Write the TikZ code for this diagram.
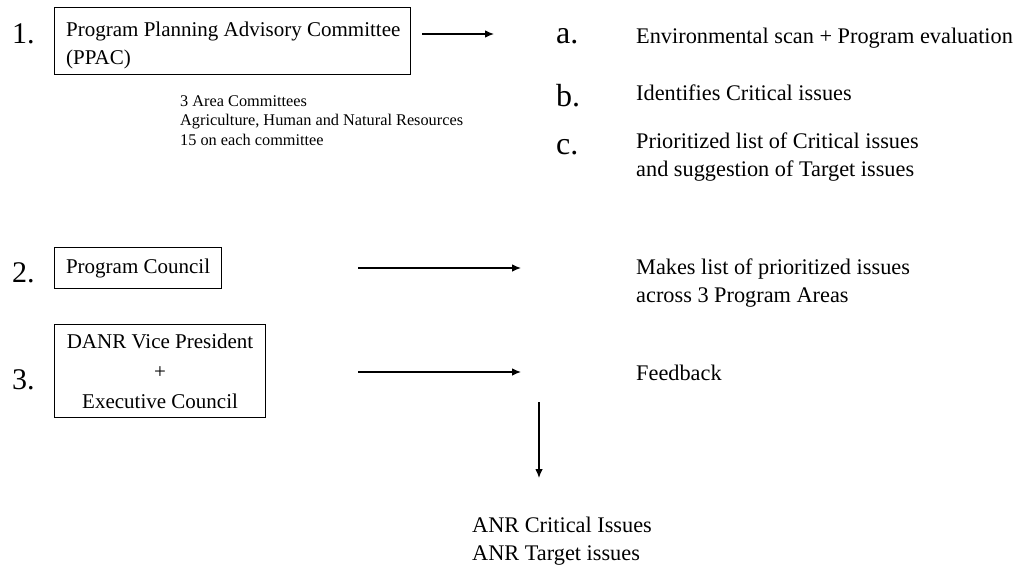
\documentclass[tikz,border=0pt]{standalone}
\usepackage{fontspec}
\setmainfont{Liberation Serif}
\usetikzlibrary{arrows.meta}
\begin{document}
\begin{tikzpicture}[x=1pt,y=-1pt,
  box/.style={draw, line width=1.1pt, inner sep=0pt, anchor=north west,
    font=\fontsize{21}{27}\selectfont},
  num/.style={anchor=base west, inner sep=0pt, font=\fontsize{30}{30}\selectfont},
  ltr/.style={anchor=base west, inner sep=0pt, font=\fontsize{32}{32}\selectfont},
  txt/.style={anchor=base west, inner sep=0pt, align=left,
    font=\fontsize{22.3}{27.5}\selectfont},
  small/.style={anchor=base west, inner sep=0pt, align=left,
    font=\fontsize{16.3}{19.5}\selectfont},
  arr/.style={-{Latex[length=9pt,width=7.5pt]}, line width=1.1pt}]
\useasboundingbox (0,0) rectangle (1019,570);

% step 1: the advisory committee and its three outputs
% (multi-line text nodes are placed by the baseline of their last line)
\node[num] (n1) at (12,43) {1.};
\node[box, minimum width=356pt, minimum height=67pt] (ppac) at (54,7) {};
\node[txt, font=\fontsize{21}{27.5}\selectfont] (ppactext) at (66,64)
  {Program Planning Advisory Committee\\(PPAC)};
\node[small] (areas) at (180,145)
  {3 Area Committees\\Agriculture, Human and Natural Resources\\15 on each committee};

\node[ltr] (la) at (556,43) {a.};
\node[ltr] (lb) at (556,106) {b.};
\node[ltr] (lc) at (556,154) {c.};
\node[txt] (ta) at (636,43) {Environmental scan + Program evaluation};
\node[txt] (tb) at (636,100) {Identifies Critical issues};
\node[txt] (tc) at (636,176) {Prioritized list of Critical issues\\and suggestion of Target issues};

% step 2: the program council
\node[num] (n2) at (12,282) {2.};
\node[box, minimum width=167pt, minimum height=41pt] (council) at (54,247) {Program Council};
\node[txt] (tlist) at (636,302) {Makes list of prioritized issues\\across 3 Program Areas};

% step 3: vice president and executive council
\node[num] (n3) at (12,389) {3.};
\node[box, minimum width=211pt, minimum height=93pt, align=center,
  font=\fontsize{21}{30}\selectfont]
  (exec) at (54,324) {DANR Vice President\\+\\Executive Council};
\node[txt] (tfeed) at (636,380) {Feedback};

% final result
\node[txt] (result) at (472,560) {ANR Critical Issues\\ANR Target issues};

% arrow end points
\coordinate (a1s) at (422,34);  \coordinate (a1e) at (494,34);
\coordinate (a2s) at (358,268); \coordinate (a2e) at (521,268);
\coordinate (a3s) at (358,372); \coordinate (a3e) at (521,372);
\coordinate (dns) at (539,402); \coordinate (dne) at (539,478);

\draw[arr] (a1s) -- (a1e);
\draw[arr] (a2s) -- (a2e);
\draw[arr] (a3s) -- (a3e);
\draw[arr] (dns) -- (dne);
\end{tikzpicture}
\end{document}
